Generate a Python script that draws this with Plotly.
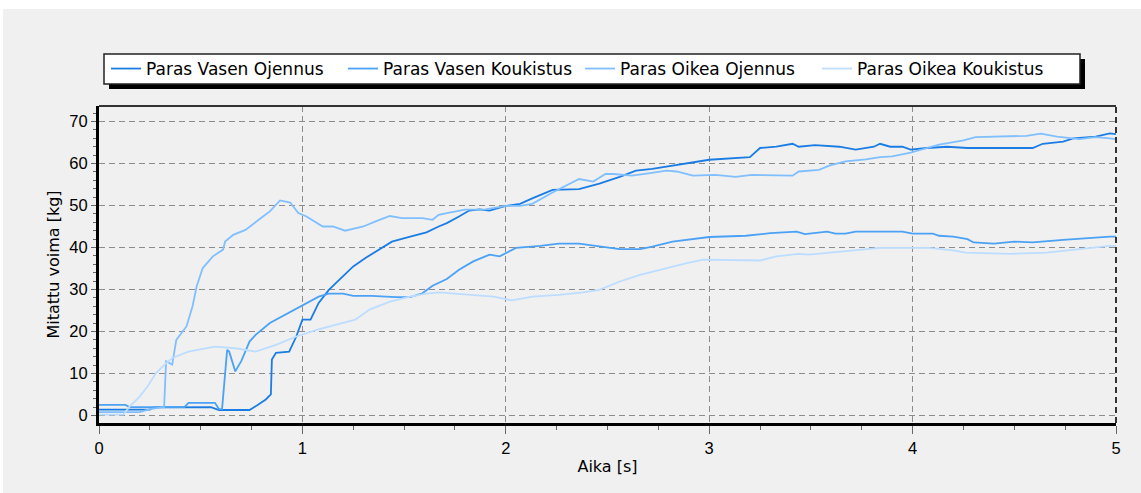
import plotly.graph_objects as go

# Measured force curves (time in seconds, force in kg)
t_vasen_ojennus = [0, 0.25, 0.27, 0.55, 0.59, 0.74, 0.78, 0.82, 0.845, 0.85, 0.87, 0.935, 0.97, 1.0, 1.04, 1.08,
                   1.13, 1.18, 1.25, 1.31, 1.38, 1.44, 1.53, 1.61, 1.67, 1.71, 1.77, 1.82, 1.87, 1.92, 2.0, 2.07,
                   2.13, 2.23, 2.36, 2.46, 2.56, 2.64, 2.72, 2.82, 2.92, 3.0, 3.2, 3.25, 3.33, 3.41, 3.44, 3.52,
                   3.64, 3.72, 3.81, 3.84, 3.89, 3.95, 3.99, 4.07, 4.17, 4.27, 4.40, 4.59, 4.64, 4.74, 4.79, 4.90,
                   4.97, 5.0]
v_vasen_ojennus = [1.4, 1.4, 1.9, 2.0, 1.3, 1.3, 2.5, 3.8, 5.0, 13.3, 14.9, 15.2, 18.8, 22.8, 22.8, 26.8,
                   29.9, 32.3, 35.5, 37.5, 39.5, 41.4, 42.6, 43.6, 45.0, 45.8, 47.4, 48.8, 49.1, 48.8, 49.9, 50.4,
                   51.7, 53.7, 53.9, 55.2, 56.8, 58.3, 58.7, 59.5, 60.2, 60.9, 61.5, 63.7, 64.0, 64.7, 64.0, 64.4,
                   64.0, 63.3, 64.0, 64.7, 64.0, 64.0, 63.3, 63.7, 64.0, 63.7, 63.7, 63.7, 64.7, 65.2, 66.0, 66.4,
                   67.2, 67.0]

t_vasen_koukistus = [0, 0.13, 0.15, 0.42, 0.44, 0.57, 0.59, 0.605, 0.63, 0.64, 0.67, 0.7, 0.74, 0.77, 0.84, 0.9,
                     1.0, 1.08, 1.13, 1.2, 1.25, 1.34, 1.46, 1.53, 1.59, 1.64, 1.71, 1.77, 1.84, 1.92, 1.97, 2.05,
                     2.17, 2.26, 2.36, 2.46, 2.56, 2.66, 2.72, 2.82, 2.92, 3.0, 3.18, 3.3, 3.43, 3.47, 3.58, 3.62,
                     3.67, 3.72, 3.95, 4.0, 4.1, 4.13, 4.2, 4.27, 4.3, 4.4, 4.5, 4.59, 4.74, 4.92, 4.97, 5.0]
v_vasen_koukistus = [2.5, 2.5, 2.0, 2.0, 3.0, 3.0, 1.5, 1.5, 15.6, 15.2, 10.5, 13.0, 17.6, 19.2, 22.0, 23.6,
                     26.1, 28.3, 29.0, 29.0, 28.5, 28.5, 28.2, 28.2, 29.1, 30.9, 32.5, 34.7, 36.7, 38.3, 37.9, 39.9,
                     40.4, 40.9, 40.9, 40.2, 39.6, 39.6, 40.2, 41.4, 42.0, 42.5, 42.8, 43.4, 43.8, 43.2, 43.8, 43.3,
                     43.3, 43.8, 43.8, 43.3, 43.3, 42.8, 42.6, 42.0, 41.2, 40.9, 41.4, 41.2, 41.8, 42.5, 42.6, 42.6]

t_oikea_ojennus = [0, 0.2, 0.25, 0.31, 0.32, 0.33, 0.36, 0.38, 0.43, 0.46, 0.48, 0.51, 0.56, 0.61, 0.62, 0.66,
                   0.72, 0.79, 0.84, 0.89, 0.94, 0.98, 1.02, 1.1, 1.15, 1.21, 1.3, 1.36, 1.43, 1.49, 1.59, 1.64,
                   1.67, 1.71, 1.80, 1.90, 2.0, 2.07, 2.13, 2.23, 2.36, 2.43, 2.49, 2.53, 2.62, 2.71, 2.79, 2.84,
                   2.92, 3.03, 3.13, 3.21, 3.36, 3.41, 3.44, 3.54, 3.59, 3.67, 3.77, 3.84, 3.9, 3.99, 4.05, 4.13,
                   4.18, 4.25, 4.31, 4.46, 4.56, 4.63, 4.71, 4.82, 4.9, 4.97, 5.0]
v_oikea_ojennus = [0.8, 0.8, 1.5, 2.0, 2.0, 12.9, 12.1, 18.0, 21.2, 26.0, 30.7, 35.1, 37.9, 39.5, 41.4, 43.0,
                   44.2, 46.8, 48.6, 51.2, 50.7, 48.2, 47.4, 45.0, 45.0, 44.0, 45.0, 46.2, 47.5, 47.0, 47.0, 46.6,
                   47.8, 48.2, 49.0, 49.1, 49.9, 49.9, 50.4, 53.1, 56.3, 55.7, 57.5, 57.5, 57.1, 57.7, 58.3, 58.1,
                   57.1, 57.3, 56.8, 57.3, 57.1, 57.1, 58.1, 58.5, 59.5, 60.5, 61.0, 61.5, 61.7, 62.6, 63.4, 64.5,
                   64.9, 65.5, 66.3, 66.4, 66.6, 67.1, 66.4, 65.8, 66.3, 66.0, 65.8]

t_oikea_koukistus = [0, 0.12, 0.15, 0.2, 0.24, 0.28, 0.32, 0.36, 0.44, 0.57, 0.67, 0.77, 0.87, 0.97, 1.07, 1.16,
                     1.26, 1.33, 1.43, 1.53, 1.61, 1.67, 1.81, 1.94, 2.03, 2.13, 2.26, 2.38, 2.46, 2.56, 2.66,
                     2.79, 2.89, 2.97, 3.12, 3.25, 3.33, 3.44, 3.49, 3.64, 3.84, 4.08, 4.2, 4.26, 4.48, 4.66, 4.76,
                     4.86, 4.97, 5.0]
v_oikea_koukistus = [0.2, 0.2, 2.1, 4.5, 7.0, 10.1, 12.0, 13.7, 15.2, 16.4, 16.0, 15.2, 16.8, 18.8, 20.4, 21.5,
                     22.8, 25.2, 27.1, 28.3, 29.0, 29.3, 28.7, 28.3, 27.4, 28.3, 28.7, 29.3, 29.9, 31.9, 33.5,
                     35.1, 36.3, 37.1, 36.9, 36.9, 37.9, 38.5, 38.3, 39.0, 39.9, 39.9, 39.3, 38.8, 38.5, 38.8, 39.3,
                     39.9, 40.4, 40.4]

series_names = ["Paras Vasen Ojennus", "Paras Vasen Koukistus", "Paras Oikea Ojennus", "Paras Oikea Koukistus"]
series_t = [t_vasen_ojennus, t_vasen_koukistus, t_oikea_ojennus, t_oikea_koukistus]
series_v = [v_vasen_ojennus, v_vasen_koukistus, v_oikea_ojennus, v_oikea_koukistus]
series_colors = ["#1B7DE4", "#4BA1F4", "#80BFFF", "#BCDDFF"]

x_ticks = [0, 1, 2, 3, 4, 5]
y_ticks = [0, 10, 20, 30, 40, 50, 60, 70]

W, H = 1141, 493
ML, MR, MT, MB = 99, 25, 106, 70
PW, PH = W - ML - MR, H - MT - MB


def px(x):
    return (x - ML) / PW


def py(y):
    return (H - MB - y) / PH


fig = go.Figure()
for name, t, v, c in zip(series_names, series_t, series_v, series_colors):
    fig.add_trace(go.Scatter(x=t, y=v, name=name, mode="lines",
                             line=dict(color=c, width=1.8)))

text_font = "DejaVu Sans, sans-serif"
num_font = "Liberation Sans, Arial, sans-serif"
shapes = [
    # window strip at the top and left edge
    dict(type="rect", xref="paper", yref="paper", x0=px(0), x1=px(W), y0=py(9), y1=py(0),
         fillcolor="white", line=dict(width=0), layer="below"),
    dict(type="rect", xref="paper", yref="paper", x0=px(0), x1=px(3), y0=py(H), y1=py(0),
         fillcolor="white", line=dict(width=0), layer="below"),
    # legend box shadow and box
    dict(type="rect", xref="paper", yref="paper", x0=px(109), x1=px(1085), y0=py(89), y1=py(59),
         fillcolor="black", line=dict(width=0)),
    dict(type="rect", xref="paper", yref="paper", x0=px(104), x1=px(1080), y0=py(84), y1=py(54),
         fillcolor="white", line=dict(color="#222222", width=1.5)),
    # plot frame: top and right
    dict(type="line", xref="paper", yref="paper", x0=0, x1=1, y0=1, y1=1,
         line=dict(color="#333333", width=2)),
    dict(type="line", xref="paper", yref="paper", x0=1, x1=1, y0=0, y1=1,
         line=dict(color="#333333", width=2, dash="6px,4px")),
]

fig.update_layout(
    width=W, height=H,
    margin=dict(l=ML, r=MR, t=MT, b=MB),
    paper_bgcolor="#F0F0F0", plot_bgcolor="#F0F0F0",
    font=dict(family=text_font, size=16, color="black"),
    showlegend=True,
    legend=dict(orientation="h", x=px(106), xanchor="left", y=py(69), yanchor="middle",
                bgcolor="rgba(0,0,0,0)", borderwidth=0, entrywidth=192, entrywidthmode="pixels",
                font=dict(family=text_font, size=17, color="black"), itemwidth=30),
    shapes=shapes,
    xaxis=dict(range=[0, 5], tickvals=x_ticks, ticktext=[str(v) for v in x_ticks],
               showgrid=True, gridcolor="#8C8C8C", griddash="6px,4px", gridwidth=1.4,
               zeroline=False, showline=True, linecolor="black", linewidth=3,
               ticks="outside", ticklen=8, tickcolor="#666666", tickwidth=1,
               minor=dict(dtick=0.25, tick0=0, ticks="outside", ticklen=4, tickcolor="#666666", showgrid=False),
               title=dict(text="Aika [s]", standoff=6, font=dict(family=text_font, size=16)),
               tickfont=dict(family=num_font, size=16.5)),
    yaxis=dict(range=[-1.8, 73.7], tickvals=y_ticks, ticktext=[str(v) for v in y_ticks],
               showgrid=True, gridcolor="#8C8C8C", griddash="6px,4px", gridwidth=1.4,
               zeroline=False, showline=True, linecolor="black", linewidth=3,
               ticks="outside", ticklen=5, tickcolor="#666666", tickwidth=1,
               minor=dict(dtick=2, tick0=0, ticks="outside", ticklen=3, tickcolor="#666666", showgrid=False),
               title=dict(text="Mitattu voima [kg]", standoff=6, font=dict(family=text_font, size=16)),
               tickfont=dict(family=num_font, size=16.5)),
)

fig.write_html("out.html")
